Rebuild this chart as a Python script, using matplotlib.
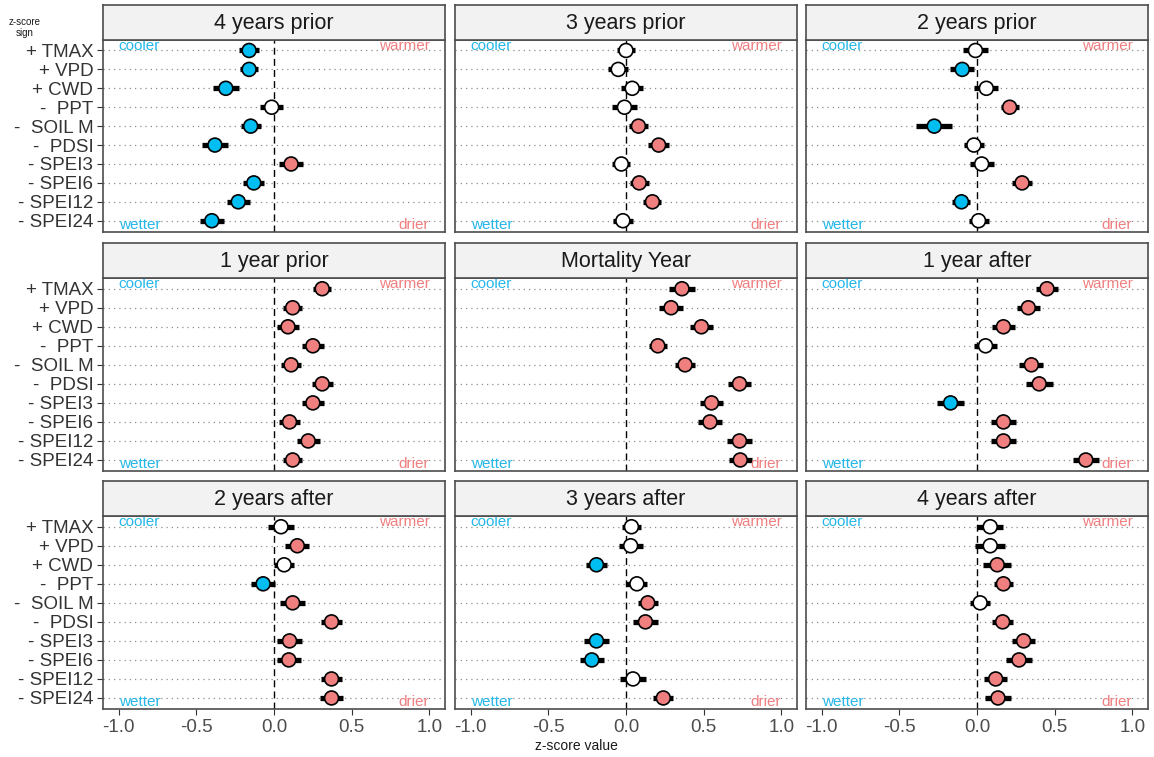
import matplotlib
matplotlib.use("Agg")
import matplotlib.pyplot as plt
import numpy as np

plt.rcParams['font.family'] = ['Liberation Sans', 'DejaVu Sans']
plt.rcParams['axes.unicode_minus'] = False

# Climate variables (top to bottom) with the sign applied to their z-scores
variables = ["+ TMAX", "+ VPD", "+ CWD", "-  PPT", "-  SOIL M",
             "-  PDSI", "- SPEI3", "- SPEI6", "- SPEI12", "- SPEI24"]

periods = ["4 years prior", "3 years prior", "2 years prior",
           "1 year prior", "Mortality Year", "1 year after",
           "2 years after", "3 years after", "4 years after"]

# Mean z-score per variable
z_4_prior = [-0.16, -0.16, -0.31, -0.015, -0.15, -0.38, 0.11, -0.13, -0.23, -0.40]
z_3_prior = [0.00, -0.05, 0.04, -0.01, 0.08, 0.21, -0.03, 0.085, 0.17, -0.02]
z_2_prior = [-0.01, -0.095, 0.06, 0.21, -0.275, -0.02, 0.03, 0.29, -0.10, 0.01]
z_1_prior = [0.31, 0.12, 0.09, 0.25, 0.11, 0.31, 0.25, 0.10, 0.22, 0.12]
z_mortality = [0.36, 0.29, 0.485, 0.205, 0.38, 0.73, 0.55, 0.54, 0.73, 0.735]
z_1_after = [0.45, 0.33, 0.17, 0.055, 0.35, 0.40, -0.17, 0.17, 0.17, 0.70]
z_2_after = [0.045, 0.15, 0.065, -0.07, 0.12, 0.37, 0.10, 0.095, 0.37, 0.37]
z_3_after = [0.035, 0.03, -0.19, 0.07, 0.14, 0.125, -0.19, -0.22, 0.045, 0.24]
z_4_after = [0.085, 0.085, 0.13, 0.17, 0.02, 0.165, 0.30, 0.27, 0.12, 0.135]

# Half-width of the confidence interval
ci_4_prior = [0.062, 0.06, 0.085, 0.073, 0.064, 0.083, 0.077, 0.068, 0.075, 0.077]
ci_3_prior = [0.06, 0.066, 0.07, 0.081, 0.06, 0.068, 0.058, 0.06, 0.058, 0.066]
ci_2_prior = [0.081, 0.077, 0.077, 0.058, 0.115, 0.064, 0.077, 0.064, 0.058, 0.064]
ci_1_prior = [0.056, 0.059, 0.07, 0.07, 0.062, 0.068, 0.073, 0.066, 0.075, 0.062]
ci_mortality = [0.081, 0.075, 0.075, 0.058, 0.062, 0.075, 0.077, 0.077, 0.083, 0.073]
ci_1_after = [0.07, 0.075, 0.075, 0.075, 0.077, 0.088, 0.085, 0.079, 0.079, 0.085]
ci_2_after = [0.081, 0.077, 0.064, 0.075, 0.079, 0.068, 0.079, 0.077, 0.066, 0.075]
ci_3_after = [0.06, 0.077, 0.066, 0.068, 0.066, 0.079, 0.083, 0.077, 0.081, 0.064]
ci_4_after = [0.085, 0.095, 0.09, 0.062, 0.066, 0.068, 0.073, 0.083, 0.075, 0.081]

# Significance flag (1 = significant departure from zero)
sig_4_prior = [1, 1, 1, 0, 1, 1, 1, 1, 1, 1]
sig_3_prior = [0, 0, 0, 0, 1, 1, 0, 1, 1, 0]
sig_2_prior = [0, 1, 0, 1, 1, 0, 0, 1, 1, 0]
sig_1_prior = [1, 1, 1, 1, 1, 1, 1, 1, 1, 1]
sig_mortality = [1, 1, 1, 1, 1, 1, 1, 1, 1, 1]
sig_1_after = [1, 1, 1, 0, 1, 1, 1, 1, 1, 1]
sig_2_after = [0, 1, 0, 1, 1, 1, 1, 1, 1, 1]
sig_3_after = [0, 0, 1, 0, 1, 1, 1, 1, 0, 1]
sig_4_after = [0, 0, 1, 1, 0, 1, 1, 1, 1, 1]

x_ticks = [-1.0, -0.5, 0.0, 0.5, 1.0]
x_tick_labels = ["-1.0", "-0.5", "0.0", "0.5", "1.0"]

z_all = [z_4_prior, z_3_prior, z_2_prior, z_1_prior, z_mortality,
         z_1_after, z_2_after, z_3_after, z_4_after]
ci_all = [ci_4_prior, ci_3_prior, ci_2_prior, ci_1_prior, ci_mortality,
          ci_1_after, ci_2_after, ci_3_after, ci_4_after]
sig_all = [sig_4_prior, sig_3_prior, sig_2_prior, sig_1_prior, sig_mortality,
           sig_1_after, sig_2_after, sig_3_after, sig_4_after]

BLUE = "#00BDF2"
RED = "#F08080"
TXT_BLUE = "#25B7EA"
TXT_RED = "#EF7F80"
BORDER = "#4d4d4d"

W, H = 1154, 757
fig = plt.figure(figsize=(W / 100, H / 100), dpi=100)

col_left = [103, 455, 806]
panel_w = 342
row_top = [39.5, 277.7, 515.7]
panel_h = [192.2, 193.3, 193.3]
strip_h = 34.3

ypos = np.arange(len(variables))[::-1] + 1  # TMAX at top

for i, period in enumerate(periods):
    r, c = divmod(i, 3)
    left = col_left[c] / W
    bottom = 1 - (row_top[r] + panel_h[r]) / H
    ax = fig.add_axes([left, bottom, panel_w / W, panel_h[r] / H])
    sax = fig.add_axes([left, 1 - row_top[r] / H, panel_w / W, strip_h / H])

    vals = np.array(z_all[i])
    errs = np.array(ci_all[i])
    sig = np.array(sig_all[i])
    colors = [("white" if s == 0 else (RED if v > 0 else BLUE))
              for v, s in zip(vals, sig)]

    ax.set_xlim(-1.1, 1.1)
    ax.set_ylim(0.42, 10.58)
    ax.set_yticks(ypos)
    ax.yaxis.grid(True, linestyle=(0, (1, 3.2)), color="#8c8c8c", linewidth=0.9)
    ax.xaxis.grid(False)
    ax.set_axisbelow(True)

    ax.axvline(0, color="black", linestyle=(0, (5, 3)), linewidth=1.0, zorder=1)
    ax.errorbar(vals, ypos, xerr=errs, fmt="none", ecolor="black",
                elinewidth=3.8, capsize=0, zorder=2)
    ax.scatter(vals, ypos, s=100, c=colors, edgecolors="black",
               linewidths=1.2, zorder=3)

    ax.text(-1.0, 10.23, "cooler", ha="left", va="center", color=TXT_BLUE, fontsize=11)
    ax.text(1.0, 10.23, "warmer", ha="right", va="center", color=TXT_RED, fontsize=11)
    ax.text(-1.0, 0.8, "wetter", ha="left", va="center", color=TXT_BLUE, fontsize=11)
    ax.text(1.0, 0.8, "drier", ha="right", va="center", color=TXT_RED, fontsize=11)

    for sp in ax.spines.values():
        sp.set_color(BORDER)
        sp.set_linewidth(1.2)

    ax.set_xticks(x_ticks)
    if r == 2:
        ax.set_xticklabels(x_tick_labels)
        ax.tick_params(axis="x", length=4, color="#333333", labelsize=13.5,
                       labelcolor="#4d4d4d", pad=3)
    else:
        ax.tick_params(axis="x", length=0, labelbottom=False)
    if c == 0:
        ax.set_yticklabels(variables)
        ax.tick_params(axis="y", length=4, color="#333333", labelsize=13.5,
                       labelcolor="#333333", pad=3)
    else:
        ax.tick_params(axis="y", length=0, labelleft=False)

    # facet strip
    sax.set_facecolor("#F2F2F2")
    sax.set_xticks([])
    sax.set_yticks([])
    for sp in sax.spines.values():
        sp.set_color(BORDER)
        sp.set_linewidth(1.2)
    sax.text(0.5, 0.48, period, ha="center", va="center", fontsize=15.5,
             color="#1a1a1a", transform=sax.transAxes)

fig.text(576 / W, 1 - 746 / H, "z-score value", ha="center", va="center",
         fontsize=10, color="#1a1a1a")
fig.text(25 / W, 1 - 22 / H, "z-score", ha="center", va="center",
         fontsize=7, color="#1a1a1a")
fig.text(25 / W, 1 - 33 / H, "sign", ha="center", va="center",
         fontsize=7, color="#1a1a1a")

fig.savefig("out.png", dpi=100)
